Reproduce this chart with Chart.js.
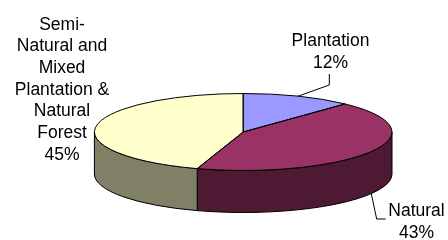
<!DOCTYPE html>
<html>
<head>
<meta charset="utf-8">
<script src="https://cdn.jsdelivr.net/npm/chart.js@4/dist/chart.umd.min.js"></script>
<style>
    html, body { margin: 0; padding: 0; background: #fff; }
    canvas { display: block; }
</style>
</head>
<body>
<canvas id="pieCanvas" width="448" height="240"></canvas>
<script>
// data
var categories = ["Plantation", "Natural", "Semi-Natural and Mixed Plantation & Natural Forest"];
var shares = [12, 43, 45];
var labelLines = [
    ["Plantation"],
    ["Natural"],
    ["Semi-", "Natural and", "Mixed", "Plantation &", "Natural", "Forest"]
];

var topColors = ["#9999FF", "#993366", "#FFFFCC"];
var sideColors = ["#4D4D80", "#4D1933", "#808066"];

// 3d look
var TILT = 0.2587;
var DEPTH = 42;

// where the labels sit (center x, first baseline) and the leader elbows
var labelPos = [
    { x: 330.5, y: 46, leader: [[329.3, 85], [329.3, 74]], fromBottom: false },
    { x: 416.5, y: 216, leader: [[376.7, 219], [385.7, 219]], fromBottom: true },
    { x: 62, y: 29.5, leader: null }
];
var LINE_H = 21.7;

var pie3d = {
    id: "pie3d",
    beforeDatasetsDraw: function (chart) {
        var ctx = chart.ctx;
        var arcs = chart.getDatasetMeta(0).data;
        var cx = arcs[0].x, cy = arcs[0].y, r = arcs[0].outerRadius;
        var ry = r * TILT;

        // side walls, only the front half shows
        arcs.forEach(function (arc, i) {
            var a = Math.max(arc.startAngle, 0);
            var b = Math.min(arc.endAngle, Math.PI);
            if (b <= a) return;
            ctx.beginPath();
            ctx.ellipse(cx, cy, r, ry, 0, a, b);
            ctx.ellipse(cx, cy + DEPTH, r, ry, 0, b, a, true);
            ctx.closePath();
            ctx.fillStyle = sideColors[i];
            ctx.fill();
            ctx.lineWidth = 1;
            ctx.strokeStyle = "#000";
            ctx.stroke();
        });

        // squash the top face
        ctx.save();
        ctx.translate(cx, cy);
        ctx.scale(1, TILT);
        ctx.translate(-cx, -cy);
    },
    afterDatasetsDraw: function (chart) {
        var ctx = chart.ctx;
        ctx.restore();
        var arcs = chart.getDatasetMeta(0).data;
        var cx = arcs[0].x, cy = arcs[0].y, r = arcs[0].outerRadius;
        var ry = r * TILT;

        ctx.lineWidth = 1;
        ctx.strokeStyle = "#000";
        arcs.forEach(function (arc) {
            ctx.beginPath();
            ctx.moveTo(cx, cy);
            ctx.ellipse(cx, cy, r, ry, 0, arc.startAngle, arc.endAngle);
            ctx.closePath();
            ctx.stroke();
        });

        // labels + leader lines
        ctx.font = "17.5px 'Liberation Sans', Arial, sans-serif";
        ctx.fillStyle = "#000";
        ctx.textAlign = "center";
        ctx.textBaseline = "alphabetic";
        arcs.forEach(function (arc, i) {
            var pos = labelPos[i];
            var lines = labelLines[i].concat([shares[i] + "%"]);
            lines.forEach(function (t, j) {
                ctx.fillText(t, pos.x, pos.y + j * LINE_H);
            });
            if (pos.leader) {
                var mid = (arc.startAngle + arc.endAngle) / 2;
                var px = cx + r * Math.cos(mid);
                var py = cy + ry * Math.sin(mid) + (pos.fromBottom ? DEPTH : 0);
                ctx.beginPath();
                ctx.moveTo(px, py);
                pos.leader.forEach(function (p) { ctx.lineTo(p[0], p[1]); });
                ctx.lineWidth = 1;
                ctx.stroke();
            }
        });
    }
};

window.onload = function () {
    var ctx = document.getElementById("pieCanvas").getContext("2d");
    new Chart(ctx, {
        type: "pie",
        data: {
            labels: categories,
            datasets: [
                {
                    data: shares,
                    backgroundColor: topColors,
                    borderWidth: 0,
                    radius: 148.8,
                    clip: false
                }
            ]
        },
        options: {
            responsive: false,
            animation: false,
            layout: {
                padding: { left: 38.4, top: 24, right: 0, bottom: 0 }
            },
            plugins: {
                legend: { display: false },
                tooltip: { enabled: false }
            }
        },
        plugins: [pie3d]
    });
};
</script>
</body>
</html>
